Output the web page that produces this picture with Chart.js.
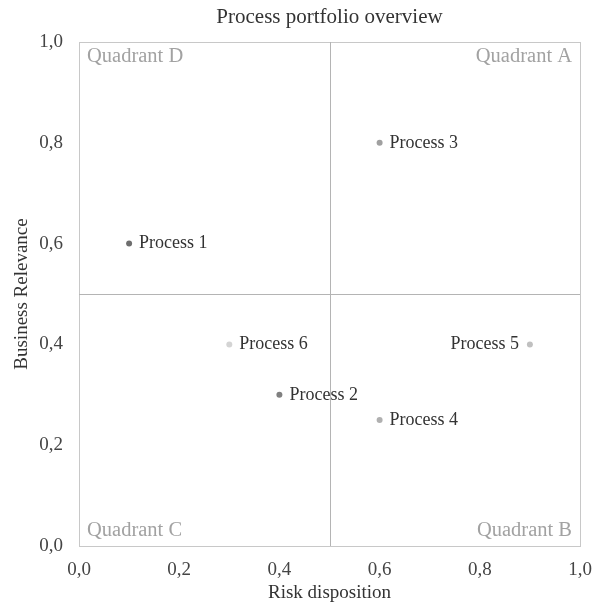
<!DOCTYPE html>
<html>
<head>
<meta charset="utf-8">
<script src="https://cdn.jsdelivr.net/npm/chart.js@4"></script>
<style>
  html, body { margin: 0; padding: 0; background: #fff; }
  #wrap { width: 594px; height: 604px; }
</style>
</head>
<body>
<div id="wrap"><canvas id="chart" width="594" height="604"></canvas></div>
<script>
// data
const processNames = ['Process 1', 'Process 2', 'Process 3', 'Process 4', 'Process 5', 'Process 6'];
const riskValues = [0.1, 0.4, 0.6, 0.6, 0.9, 0.3];
const relevanceValues = [0.6, 0.3, 0.8, 0.25, 0.4, 0.4];
const pointColors = ['#6e6e6e', '#808080', '#a0a0a0', '#b0b0b0', '#c0c0c0', '#d4d4d4'];
const labelSide = ['right', 'right', 'right', 'right', 'left', 'right'];
const quadrantNames = ['Quadrant D', 'Quadrant A', 'Quadrant C', 'Quadrant B'];
const tickValues = [0, 0.2, 0.4, 0.6, 0.8, 1.0];

const serif = '"Liberation Serif", "DejaVu Serif", serif';

function fmt(v) {
    return v.toFixed(1).replace('.', ',');
}

// quadrant frame, labels and point captions
const quadrantPlugin = {
    id: 'quadrants',
    beforeDatasetsDraw(chart) {
        const ctx = chart.ctx;
        const a = chart.chartArea;
        const xs = chart.scales.x, ys = chart.scales.y;
        const mx = xs.getPixelForValue(0.5), my = ys.getPixelForValue(0.5);
        ctx.save();
        ctx.lineWidth = 1;
        ctx.strokeStyle = '#c8c8c8';
        ctx.strokeRect(a.left + 0.5, a.top + 0.5, a.right - a.left, a.bottom - a.top);
        ctx.strokeStyle = '#b4b4b4';
        ctx.beginPath();
        ctx.moveTo(Math.round(mx) + 0.5, a.top);
        ctx.lineTo(Math.round(mx) + 0.5, a.bottom);
        ctx.moveTo(a.left, Math.round(my) + 0.5);
        ctx.lineTo(a.right, Math.round(my) + 0.5);
        ctx.stroke();

        ctx.font = '20.5px ' + serif;
        ctx.fillStyle = '#a2a2a2';
        ctx.textBaseline = 'middle';
        ctx.textAlign = 'left';
        ctx.fillText(quadrantNames[0], a.left + 8, a.top + 15);
        ctx.fillText(quadrantNames[2], a.left + 8, a.bottom - 15);
        ctx.textAlign = 'right';
        ctx.fillText(quadrantNames[1], a.right - 8, a.top + 15);
        ctx.fillText(quadrantNames[3], a.right - 8, a.bottom - 15);
        ctx.restore();
    },
    afterDatasetsDraw(chart) {
        const ctx = chart.ctx;
        const meta = chart.getDatasetMeta(0);
        ctx.save();
        ctx.font = '18px ' + serif;
        ctx.fillStyle = '#333';
        ctx.textBaseline = 'middle';
        meta.data.forEach((pt, i) => {
            if (labelSide[i] === 'left') {
                ctx.textAlign = 'right';
                ctx.fillText(processNames[i], pt.x - 11, pt.y);
            } else {
                ctx.textAlign = 'left';
                ctx.fillText(processNames[i], pt.x + 10, pt.y);
            }
        });
        // chart title, centred over the plot area
        const a = chart.chartArea;
        ctx.font = '21px ' + serif;
        ctx.fillStyle = '#333';
        ctx.textAlign = 'center';
        ctx.fillText('Process portfolio overview', (a.left + a.right) / 2, 17);
        ctx.restore();
    }
};

const points = riskValues.map((x, i) => ({ x: x, y: relevanceValues[i] }));

new Chart(document.getElementById('chart'), {
    type: 'scatter',
    data: {
        datasets: [{
            data: points,
            pointRadius: 3,
            pointHoverRadius: 3,
            pointBackgroundColor: pointColors,
            pointBorderWidth: 0
        }]
    },
    options: {
        responsive: false,
        animation: false,
        layout: { padding: { top: 42, right: 14, left: 0, bottom: 0 } },
        plugins: {
            legend: { display: false },
            tooltip: { enabled: false }
        },
        scales: {
            x: {
                type: 'linear',
                min: 0, max: 1,
                afterBuildTicks: s => { s.ticks = tickValues.map(v => ({ value: v })); },
                afterFit: s => {
                    s.height = 58;
                    s.paddingLeft = 0;
                    s.paddingRight = 0;
                },
                grid: { display: false, drawTicks: false },
                border: { display: false },
                ticks: {
                    padding: 13,
                    maxRotation: 0,
                    color: '#444',
                    font: { family: serif, size: 19 },
                    callback: v => fmt(v)
                },
                title: {
                    display: true,
                    text: 'Risk disposition',
                    color: '#333',
                    font: { family: serif, size: 19 },
                    padding: { top: 0, bottom: 0 }
                }
            },
            y: {
                type: 'linear',
                min: 0, max: 1,
                afterBuildTicks: s => { s.ticks = tickValues.map(v => ({ value: v })); },
                afterFit: s => {
                    s.width = 79;
                    s.paddingTop = 0;
                    s.paddingBottom = 0;
                },
                grid: { display: false, drawTicks: false },
                border: { display: false },
                ticks: {
                    padding: 16,
                    color: '#444',
                    font: { family: serif, size: 19 },
                    callback: v => fmt(v)
                },
                title: {
                    display: true,
                    text: 'Business Relevance',
                    color: '#333',
                    font: { family: serif, size: 19 },
                    padding: { top: 11, bottom: 0 }
                }
            }
        }
    },
    plugins: [quadrantPlugin]
});
</script>
</body>
</html>
